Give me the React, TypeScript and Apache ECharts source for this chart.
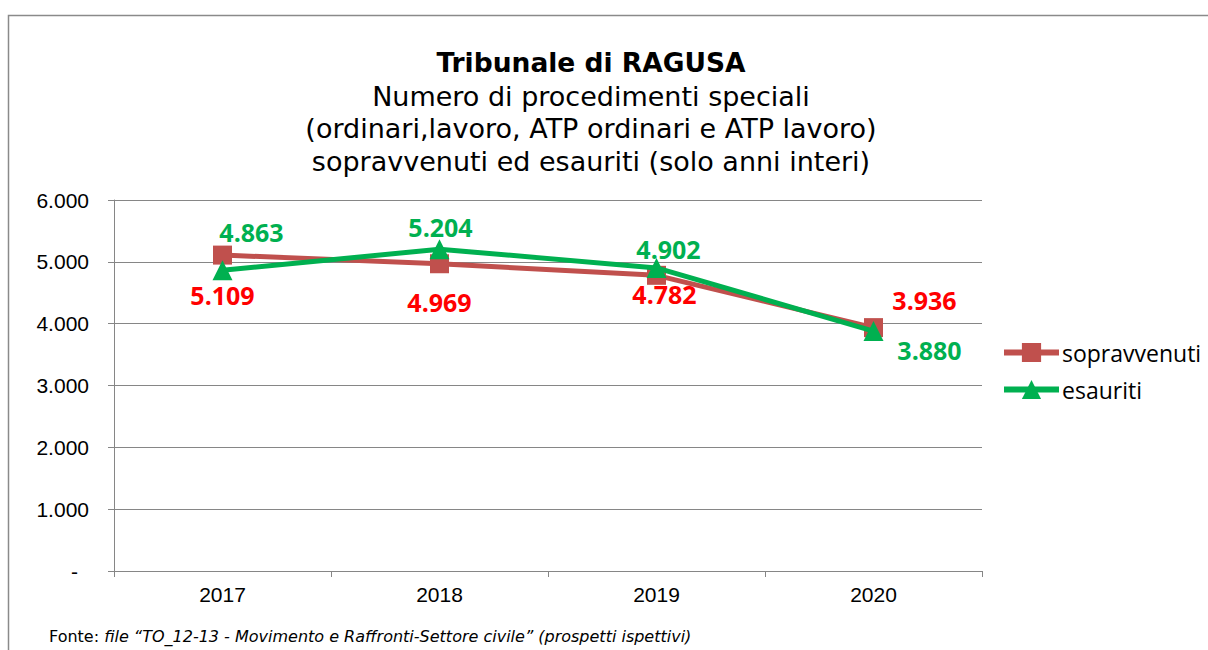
import React, { useEffect, useRef } from "react";
import * as echarts from "echarts";

const categories = ["2017", "2018", "2019", "2020"];
const sopravvenuti = [5109, 4969, 4782, 3936];
const esauriti = [4863, 5204, 4902, 3880];
const sopravLabelOffsets: [number, number][] = [[0, 40], [0, 38], [8, 19], [51, -28]];
const esauLabelOffsets: [number, number][] = [[29, -38], [1, -22], [12, -19], [56, 19]];

const fmtNum = (v: number) => String(v).replace(/\B(?=(\d{3})+(?!\d))/g, ".");
const fmtAxis = (v: number) => (v === 0 ? "{d|-}" : fmtNum(v));

export default function App() {
  const ref = useRef<HTMLDivElement>(null);
  useEffect(() => {
    const chart = echarts.init(ref.current!, undefined, { renderer: "svg" });
    const labelFont = { fontFamily: "Open Sans", fontWeight: "bold" as const, fontSize: 25 };
    chart.setOption({
      animation: false,
      backgroundColor: "#ffffff",
      title: [
        {
          text: "Tribunale di RAGUSA",
          left: 591,
          top: 47,
          padding: 0,
          textAlign: "center",
          textStyle: { fontFamily: "DejaVu Sans", fontWeight: "bold", fontSize: 26.5, lineHeight: 30, color: "#000" },
        },
        {
          text: "Numero di procedimenti speciali\n(ordinari,lavoro, ATP ordinari e ATP lavoro)\nsopravvenuti ed esauriti (solo anni interi)",
          left: 591,
          top: 80,
          padding: 0,
          textAlign: "center",
          textStyle: { fontFamily: "DejaVu Sans", fontWeight: "normal", fontSize: 27, lineHeight: 32.5, color: "#000" },
        },
      ],
      graphic: [
        {
          type: "rect",
          shape: { x: 8.5, y: 15.5, width: 1400, height: 800 },
          style: { fill: "none", stroke: "#8a8a8a", lineWidth: 1.5 },
          z: -1,
        },
        {
          type: "text",
          x: 49,
          y: 636,
          style: {
            text: "{n|Fonte: }{i|file “TO_12-13 - Movimento e Raffronti-Settore civile” (prospetti ispettivi)}",
            verticalAlign: "middle",
            rich: {
              n: { fontFamily: "DejaVu Sans", fontSize: 16, fill: "#000" },
              i: { fontFamily: "DejaVu Sans", fontStyle: "italic", fontSize: 16, fill: "#000" },
            },
          },
        },
      ],
      legend: {
        orient: "vertical",
        left: 1001,
        top: 341,
        padding: 0,
        itemWidth: 55,
        itemHeight: 24,
        itemGap: 14,
        lineStyle: { width: 6 },
        textStyle: { fontFamily: "Open Sans", fontSize: 23, color: "#000", padding: [0, 0, 0, -2] },
        data: ["sopravvenuti", "esauriti"],
      },
      grid: { left: 114, right: 226, top: 200, bottom: 79, containLabel: false },
      xAxis: {
        type: "category",
        data: categories,
        boundaryGap: true,
        axisLine: { lineStyle: { color: "#868686", width: 1 } },
        axisTick: { show: true, length: 6, alignWithLabel: false, lineStyle: { color: "#868686" } },
        axisLabel: { margin: 13, fontFamily: "Liberation Sans", fontSize: 21, color: "#000" },
      },
      yAxis: {
        type: "value",
        min: 0,
        max: 6000,
        interval: 1000,
        axisLine: { show: true, lineStyle: { color: "#868686", width: 1 } },
        axisTick: { show: true, length: 6, lineStyle: { color: "#868686" } },
        splitLine: { lineStyle: { color: "#868686", width: 1 } },
        axisLabel: {
          margin: 25,
          fontFamily: "Liberation Sans",
          fontSize: 21,
          color: "#000",
          formatter: fmtAxis,
          rich: { d: { fontFamily: "Liberation Sans", fontSize: 21, color: "#000", padding: [0, 11, 0, 0] } },
        },
      },
      series: [
        {
          name: "sopravvenuti",
          type: "line",
          data: sopravvenuti.map((v, i) => ({
            value: v,
            label: { offset: sopravLabelOffsets[i] },
          })),
          symbol: "rect",
          symbolSize: 19,
          lineStyle: { color: "#C0504D", width: 5 },
          itemStyle: { color: "#C0504D" },
          label: {
            show: true,
            position: "inside",
            color: "#FF0000",
            ...labelFont,
            formatter: (p: any) => fmtNum(p.value),
          },
          z: 2,
        },
        {
          name: "esauriti",
          type: "line",
          data: esauriti.map((v, i) => ({
            value: v,
            label: { offset: esauLabelOffsets[i] },
          })),
          symbol: "triangle",
          symbolSize: 20,
          lineStyle: { color: "#00B050", width: 5 },
          itemStyle: { color: "#00B050" },
          label: {
            show: true,
            position: "inside",
            color: "#00B050",
            ...labelFont,
            formatter: (p: any) => fmtNum(p.value),
          },
          z: 3,
        },
      ],
    });
    return () => chart.dispose();
  }, []);
  return (
    <div
      ref={ref}
      style={{ position: "absolute", left: 0, top: 0, width: 1208, height: 650 }}
    />
  );
}
